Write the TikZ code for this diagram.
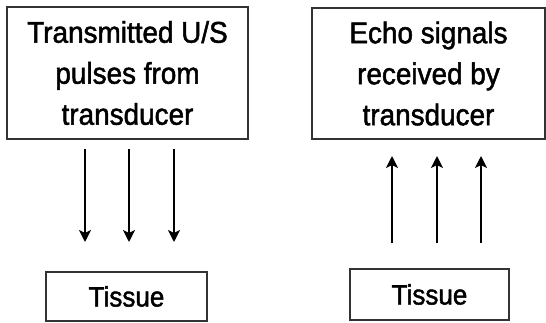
\documentclass[tikz,border=0pt]{standalone}
\usepackage{fontspec}
\setmainfont[FakeStretch=0.93,FakeBold=1.6]{Liberation Sans}
\usetikzlibrary{arrows.meta}
\begin{document}
\begin{tikzpicture}[
        txtbox/.style={draw=black!80,line width=1pt,align=center,inner sep=0pt,
            font=\fontsize{15}{20.5}\selectfont},
        tisbox/.style={draw=black!80,line width=1pt,inner sep=0pt,
            font=\fontsize{14}{16}\selectfont},
        pulse/.style={line width=1pt,-{Stealth[length=6pt,width=6pt,inset=1.5pt]}}]
\useasboundingbox (0,0) rectangle (273pt,-161pt);

\node[txtbox,minimum width=120.5pt,minimum height=66pt] (sent) at (63.75pt,-36.5pt)
    {Transmitted U/S\\pulses from\\transducer};
\node[txtbox,minimum width=116.5pt,minimum height=65.5pt] (echo) at (214.25pt,-36.75pt)
    {Echo signals\\received by\\transducer};

\node[tisbox,minimum width=80.5pt,minimum height=24.5pt] (tisL) at (63.25pt,-148.25pt) {Tissue};
\node[tisbox,minimum width=79.5pt,minimum height=25.5pt] (tisR) at (214.75pt,-147.25pt) {Tissue};

\foreach \dx in {-21.25,0.75,23.25}
    \draw[pulse,shorten <=4.5pt,shorten >=14.5pt]
        ([xshift=\dx pt]sent.south) -- ([xshift=\dx pt]sent.south |- tisL.north);
\foreach \dx in {-18.75,3.75,25.75}
    \draw[pulse,shorten <=12.5pt,shorten >=8pt]
        ([xshift=\dx pt]tisR.north) -- ([xshift=\dx pt]tisR.north |- echo.south);
\end{tikzpicture}
\end{document}
